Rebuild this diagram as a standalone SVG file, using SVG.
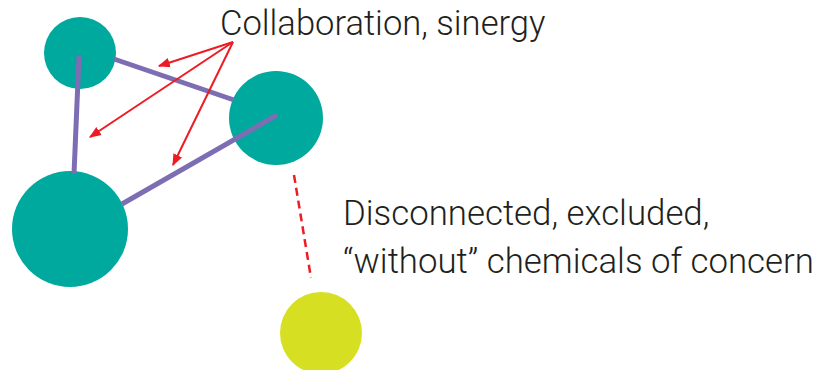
<svg xmlns="http://www.w3.org/2000/svg" width="823" height="370" viewBox="0 0 823 370">
<defs>
<style>
.node{fill:#00a99d}
.yellow{fill:#d7df23}
.edge{stroke:#7d6db3;stroke-width:5;fill:none}
.arrow{stroke:#ed1c24;stroke-width:2;fill:none}
.dash{stroke:#ed1c24;stroke-width:2.5;fill:none;stroke-dasharray:8 5}
.label{font-family:Roboto,"Liberation Sans",sans-serif;font-weight:300;fill:#231f20}
</style>
<marker id="ah" viewBox="0 0 10 10" refX="9" refY="5" markerWidth="6" markerHeight="6" orient="auto" markerUnits="strokeWidth">
<path d="M0,1 L10,5 L0,9 Z" fill="#ed1c24"/>
</marker>
</defs>
<g id="nodes">
<g id="n-small"><circle class="node" cx="80" cy="53" r="36"/></g>
<g id="n-medium"><circle class="node" cx="276" cy="118" r="47"/></g>
<g id="n-large"><circle class="node" cx="70" cy="229" r="58"/></g>
<g id="n-yellow"><circle class="yellow" cx="321" cy="333" r="41"/></g>
</g>
<g id="connectors">
<line class="edge" x1="79" y1="56" x2="74" y2="174"/>
<line class="edge" x1="114" y1="59" x2="234" y2="100"/>
<line class="edge" x1="277" y1="115" x2="122" y2="204"/>
<line class="arrow" x1="233" y1="42" x2="159" y2="66" marker-end="url(#ah)"/>
<line class="arrow" x1="233" y1="42" x2="90" y2="137" marker-end="url(#ah)"/>
<line class="arrow" x1="233" y1="42" x2="173" y2="165" marker-end="url(#ah)"/>
<line class="dash" x1="294" y1="175" x2="311" y2="278"/>
</g>
<g id="labels">
<text class="label" x="220" y="35" font-size="34.6">Collaboration, sinergy</text>
<text class="label" x="343" y="225" font-size="34.8">Disconnected, excluded,</text>
<text class="label" x="343" y="273" font-size="34.8">“without” chemicals of concern</text>
</g>
</svg>
